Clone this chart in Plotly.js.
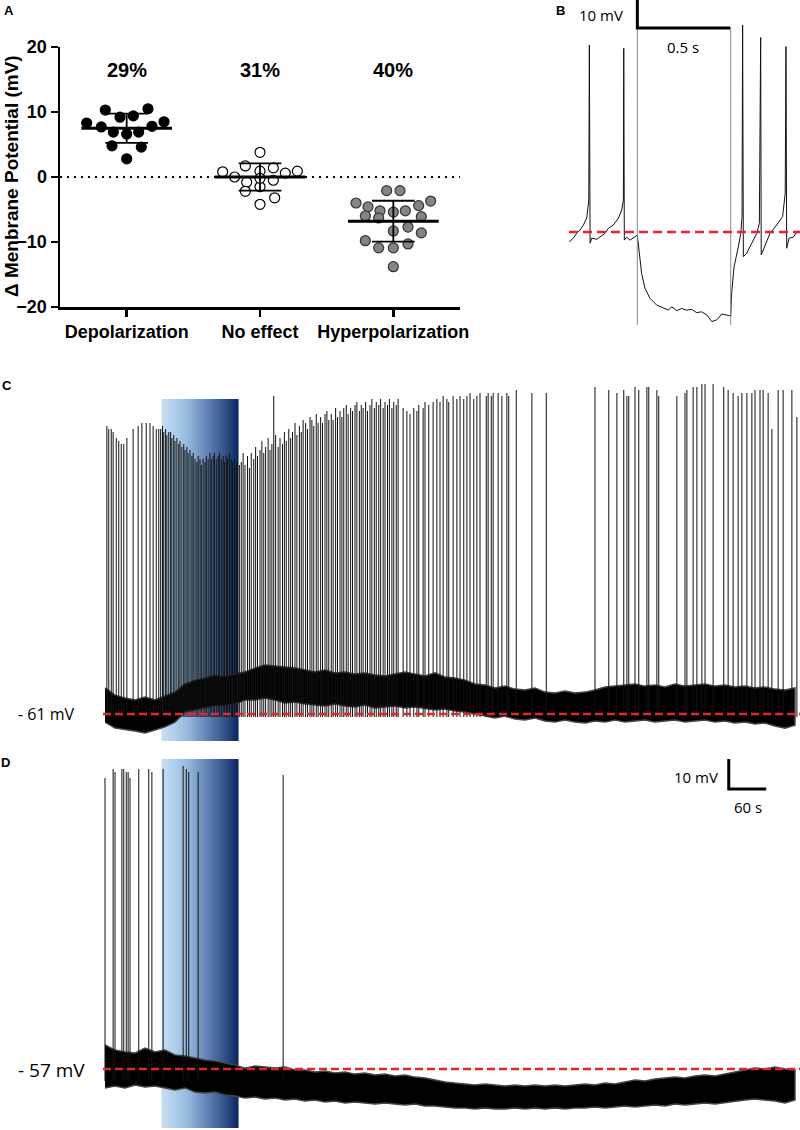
<!DOCTYPE html>
<html>
<head>
<meta charset="utf-8">
<script src="https://cdn.plot.ly/plotly-3.0.1.min.js"></script>
<style>
  body { margin: 0; background: #fff; }
  #chart { width: 800px; height: 1130px; }
</style>
</head>
<body>
<div id="chart"></div>
<script>
// ---- Panel A: change in membrane potential per recorded cell ----
const groups = ['Depolarization', 'No effect', 'Hyperpolarization'];
const groupShare = ['29%', '31%', '40%'];

// horizontal scatter offsets (category units) and values (mV)
const depolDx = [-0.30, -0.16, 0.16, -0.05, 0.05, 0.28, -0.19, -0.10, 0, 0.09, 0.19, -0.11, 0.11, 0];
const depolVals = [8.3, 10.3, 10.5, 9.2, 9.4, 8.5, 7.7, 6.9, 6.6, 6.9, 7.8, 4.8, 4.6, 2.8];
const noEffDx = [0, -0.28, -0.19, -0.11, 0, 0.10, 0.19, 0.28, -0.10, 0, 0.10, -0.11, 0.11, 0, 0];
const noEffVals = [3.8, 0.8, 0, 1.7, 0.9, 1.4, 0.6, 0.9, -0.8, -1.5, -0.5, -2.2, -3.2, -4.2, -0.2];
const hyperDx = [-0.05, 0.05, -0.28, -0.19, 0.28, 0.19, -0.10, 0, 0.09, -0.21, -0.11, 0.21, 0, 0.11, 0.21, -0.21, -0.11, 0, 0.11, 0];
const hyperVals = [-2.1, -2.1, -4.0, -4.6, -3.7, -4.4, -5.2, -5.4, -5.2, -6.0, -6.3, -6.1, -8.3, -7.7, -8.6, -9.8, -10.9, -10.9, -10.3, -13.8];
const groupMeans = [7.5, 0, -6.8];
const groupSd = [2.25, 2.1, 3.15];

// ---- Panel B: single trace around a 0.5 s light pulse (ms, mV from rest) ----
const traceBTime = [-4, 18, 36, 54, 72, 90, 101, 104, 108, 117, 144, 161, 188, 206, 233, 260, 278, 287, 289, 292,
  305, 323, 340, 362, 373, 385, 403, 430, 466, 493, 511, 529, 547, 574, 600, 627, 654, 681, 708, 735,
  762, 789, 816, 851, 864, 869, 882, 905, 918, 925, 928, 932, 950, 977, 1004, 1018, 1025, 1028, 1048, 1075,
  1111, 1143, 1157, 1161, 1165, 1178, 1199, 1226];
const traceBVolt = [-3.5, -2.2, -0.5, 0.7, 2.5, 5.0, 11.4, 66.8, -4.0, -2.2, -2.6, -1.9, -0.5, 1.3, 2.5, 4.9, 7.9, 11.4, 65.6, -2.9,
  -1.9, -2.9, -2.2, -1.1, -7.6, -14.8, -20.1, -23.7, -26.1, -26.9, -27.3, -27.9, -26.7, -28.1, -27.3, -27.9, -27.6, -28.8, -28.5, -29.6,
  -32.0, -31.4, -29.3, -30.0, -30.0, -21.9, -12.4, -5.3, -0.5, 5.5, 73.9, -8.8, -7.6, -4.0, -0.5, 3.1, 69.5, -8.2, -4.6, -0.5,
  2.5, 5.5, 13.8, 66.2, -5.8, -2.2, -1.9, 0.5];
const pulseB = [362, 864];

// ---- Panels C and D: long recordings (s, mV) ----
const lightOn = [90, 214];
const restC = -61;
const restD = -57;
const bandTime = [0, 16, 32, 48, 64, 80, 96, 112, 128, 144, 160, 176, 192, 208, 224, 240, 256, 272, 288, 304,
  320, 336, 352, 368, 384, 400, 416, 432, 448, 464, 480, 496, 512, 528, 544, 560, 576, 592, 608, 624,
  640, 656, 672, 688, 704, 720, 736, 752, 768, 784, 800, 816, 832, 848, 864, 880, 896, 912, 928, 944,
  960, 976, 992, 1008, 1024, 1040, 1056, 1072, 1088, 1104];
const bandCHigh = [-52.3, -54.7, -55.7, -56.3, -55.3, -56.3, -55, -53.7, -51, -49.7, -49, -48, -48.3, -47.7, -47, -45.7, -44.7, -45, -45.3, -45.7,
  -46.3, -47, -46.3, -47.3, -47, -47.7, -47.3, -48, -48.3, -47.7, -47, -47.7, -48.3, -47.3, -48.7, -49, -49.7, -51, -51.3, -52.3,
  -51.7, -52.7, -53, -52.3, -53.7, -54, -53.3, -54, -53.7, -53, -52, -51.7, -51.3, -51, -51.7, -51.3, -52, -51, -51.7, -51.3,
  -51, -51.7, -51.3, -52, -51.7, -52.3, -52, -52.7, -53, -52.3];
const bandCLow = [-63.7, -65.7, -66.3, -66.7, -67.3, -66.3, -65.3, -63.7, -60.3, -59.7, -59, -58.3, -58.3, -57.7, -56.3, -56.3, -55.7, -56.3, -57.3, -57,
  -57.7, -58, -58.3, -57.7, -58.3, -58.7, -58, -59, -58.7, -58.3, -59, -58.7, -59.3, -59.7, -59.3, -60, -60.3, -61, -61.7, -62.3,
  -61.7, -62.7, -63, -62.3, -63.3, -63.7, -63, -63.7, -64, -63.3, -63.7, -63, -63.7, -63.3, -63, -63.7, -63.3, -63, -63.7, -63.3,
  -63, -63.7, -63.3, -64, -63.7, -64.3, -64, -65, -65.7, -64.7];
const spikesCTime = [3, 6, 10, 13, 18, 22, 26, 30, 35, 45, 53, 59, 66, 72, 77, 82, 86,
  89, 92, 94, 97, 99, 102, 105, 107, 110, 112, 115, 118, 120, 123, 126, 128, 131, 133, 136, 139, 141, 144, 147, 149, 152,
  154, 157, 160, 162, 165, 168, 170, 173, 175, 178, 181, 183, 186, 189, 191, 194, 196, 199, 202, 204, 207, 210, 212, 215,
  218, 221, 224, 228, 231, 234, 238, 241, 244, 248, 251, 254, 257, 261, 264, 267, 270, 273, 277, 280, 284, 287, 290, 294, 297,
  300, 304, 307, 311, 314, 317, 321, 324, 328, 331, 334, 338, 341, 345, 348, 352, 355, 358, 362, 365, 369, 372, 376, 379, 382,
  386, 389, 393, 396, 400, 403, 407, 410, 413, 417, 420, 424, 427, 431, 434, 438, 441, 445, 448, 452, 455, 459, 462, 466, 469,
  477, 483, 488, 494, 499, 502, 509, 512, 518, 525, 531, 536, 541, 547, 550, 557, 563, 568, 574, 579, 584, 590, 595, 600, 610,
  613, 618, 621, 629, 635, 643, 646, 658, 683, 706,
  784, 806, 819, 830, 835, 838, 848, 854, 867, 870, 883, 886, 915, 928, 931, 941, 947, 955, 960, 973, 990, 997, 1005, 1013, 1019,
  1027, 1035, 1040, 1048, 1053, 1061, 1067, 1077, 1085, 1099, 1107];
const spikesCPeak = [35, 34, 34, 33, 31, 30, 29, 29, 31, 34, 35, 36, 36, 36, 35, 34, 34,
  34, 35, 33, 34, 32, 33, 33, 31, 32, 30, 31, 29, 30, 28, 29, 27, 28, 26, 27, 25, 26, 24, 23, 25, 24,
  22, 24, 23, 25, 24, 26, 24, 25, 26, 24, 25, 26, 24, 25, 23, 25, 24, 26, 24, 23, 24, 22, 23, 22,
  23, 26, 22, 25, 21, 26, 24, 28, 25, 27, 30, 26, 28, 31, 27, 29, 45, 32, 28, 31, 29, 33, 30, 34, 31,
  33, 36, 32, 35, 33, 37, 36, 34, 38, 37, 35, 39, 36, 38, 36, 39, 40, 37, 39, 37, 41, 38, 40, 38, 41,
  42, 39, 41, 40, 42, 43, 40, 42, 41, 43, 40, 42, 44, 41, 43, 42, 44, 41, 43, 42, 44, 41, 43, 42, 44,
  41, 40, 39, 41, 40, 42, 41, 43, 42, 43, 44, 43, 45, 44, 43, 45, 44, 45, 44, 45, 46, 44, 45, 46, 45,
  46, 45, 46, 46, 45, 46, 45, 47, 46, 46,
  48, 47, 46, 47, 45, 45, 48, 47, 48, 48, 47, 45, 45, 46, 47, 48, 48, 49, 49, 49, 48, 47, 46, 45, 46,
  46, 46, 47, 47, 47, 46, 34, 47, 47, 47, 38];
const bandDHigh = [-49, -50.7, -51.3, -51.7, -50, -51.3, -50.7, -52.3, -52.7, -53.3, -54, -54.3, -55, -55.7, -56.7, -56, -56.3, -56.7, -56.3, -57.3,
  -57.3, -58, -57.7, -58.3, -58, -58.7, -58.3, -59, -58.7, -59.3, -59, -59.7, -60, -60.7, -61.3, -61.7, -62, -62.3, -62, -62.3,
  -62.7, -62.3, -62.7, -62.3, -62.7, -62.3, -62.7, -62.3, -62, -62.3, -61.7, -62, -61.3, -60.7, -61, -60.3, -60, -59.7, -60, -59.3,
  -59, -59.3, -58.7, -58, -57.3, -56.7, -57, -56.3, -57, -57.3];
const bandDLow = [-63.3, -62.7, -63.3, -62.3, -63, -62.7, -63.3, -64, -63.3, -64.7, -65, -64.7, -65.7, -66, -66.7, -66.3, -67, -66.7, -67.3, -67,
  -67.7, -67.3, -68, -67.7, -68.3, -68, -68.3, -68.7, -68.3, -68.7, -69, -68.7, -69.3, -69.3, -69.7, -70, -70, -70.3, -70, -70.3,
  -70.3, -70, -70.3, -70, -70.3, -70, -70.3, -70, -70, -69.7, -70, -69.7, -69.3, -69.7, -69.3, -69, -69.3, -68.7, -69, -68.7,
  -68.3, -68.7, -68.3, -67.7, -67.3, -67, -67.3, -67.7, -68.3, -67.3];
const spikesDTime = [0, 13, 16, 27, 30, 34, 37, 40, 54, 70, 75, 93, 125, 130, 134, 149, 285];
const spikesDPeak = [40, 43, 42, 43, 43, 42, 42, 40, 43, 43, 42, 43, 44, 43, 42, 42, 41];

const W = 800, H = 1130;
const RED = '#e3262b';
const boldFont = { family: 'Liberation Sans, Arial, sans-serif', size: 18, color: '#000', weight: 'bold' };
const plainFont = { family: 'Open Sans, sans-serif', size: 15, color: '#000' };

function px(x, y) { return { x: x / W, y: 1 - y / H }; }

function label(text, x, y, font, extra) {
  const p = px(x, y);
  return Object.assign({ text: text, x: p.x, y: p.y, xref: 'paper', yref: 'paper', showarrow: false, font: font,
    xanchor: 'center', yanchor: 'middle' }, extra || {});
}

function groupPoints(i, dx, vals, fill, edge) {
  return {
    type: 'scatter', mode: 'markers', xaxis: 'x', yaxis: 'y',
    x: dx.map(d => i + d), y: vals, cliponaxis: false, hoverinfo: 'skip',
    marker: { size: 10, color: fill, line: { color: edge, width: 1.2 } }
  };
}

function meanSdLines() {
  const mx = [], my = [], sx = [], sy = [];
  groupMeans.forEach((m, i) => {
    mx.push(i - 0.34, i + 0.34, null); my.push(m, m, null);
    const hi = m + groupSd[i], lo = m - groupSd[i];
    sx.push(i - 0.16, i + 0.16, null, i - 0.16, i + 0.16, null, i, i, null);
    sy.push(hi, hi, null, lo, lo, null, lo, hi, null);
  });
  return [
    { type: 'scatter', mode: 'lines', x: sx, y: sy, xaxis: 'x', yaxis: 'y', line: { color: '#000', width: 1.8 }, hoverinfo: 'skip' },
    { type: 'scatter', mode: 'lines', x: mx, y: my, xaxis: 'x', yaxis: 'y', line: { color: '#000', width: 3 }, hoverinfo: 'skip' }
  ];
}

function noiseBand(times, hi, lo, xa, ya) {
  return {
    type: 'scatter', mode: 'lines', xaxis: xa, yaxis: ya, hoverinfo: 'skip',
    x: times.concat(times.slice().reverse()), y: hi.concat(lo.slice().reverse()),
    fill: 'toself', fillcolor: '#000', line: { color: '#444', width: 1.5 }
  };
}

function spikeLines(times, peaks, base, xa, ya) {
  const x = [], y = [];
  times.forEach((t, i) => { x.push(t, t, null); y.push(base, peaks[i], null); });
  return { type: 'scatter', mode: 'lines', x: x, y: y, xaxis: xa, yaxis: ya, hoverinfo: 'skip',
    line: { color: '#111', width: 1 } };
}

const traces = [
  groupPoints(0, depolDx, depolVals, '#000', '#000'),
  groupPoints(1, noEffDx, noEffVals, '#fff', '#000'),
  groupPoints(2, hyperDx, hyperVals, '#848484', '#333'),
  ...meanSdLines(),
  { type: 'scatter', mode: 'lines', x: traceBTime, y: traceBVolt, xaxis: 'x2', yaxis: 'y2',
    line: { color: '#111', width: 1 }, hoverinfo: 'skip' },
  noiseBand(bandTime, bandCHigh, bandCLow, 'x3', 'y3'),
  spikeLines(spikesCTime, spikesCPeak, -62, 'x3', 'y3'),
  noiseBand(bandTime, bandDHigh, bandDLow, 'x4', 'y4'),
  spikeLines(spikesDTime, spikesDPeak, -61, 'x4', 'y4')
];

// light blue-to-navy gradient used for the light-on period
const gradSvg = "<svg xmlns='http://www.w3.org/2000/svg' width='100' height='100' viewBox='0 0 100 100' preserveAspectRatio='none'>" +
  "<defs><linearGradient id='g' x1='0' y1='0' x2='1' y2='0'>" +
  "<stop offset='0' stop-color='#c8ddf0'/><stop offset='0.15' stop-color='#b3d2ee'/>" +
  "<stop offset='0.35' stop-color='#95b6dc'/><stop offset='0.55' stop-color='#6b8cbc'/>" +
  "<stop offset='0.78' stop-color='#3a5a8f'/><stop offset='1' stop-color='#0b2662'/>" +
  "</linearGradient></defs><rect width='100' height='100' fill='url(#g)'/></svg>";
const gradSrc = 'data:image/svg+xml;base64,' + btoa(gradSvg);

function lightBox(xa, top, bottom) {
  return { source: gradSrc, xref: xa, yref: 'paper', x: lightOn[0], y: 1 - top / H,
    sizex: lightOn[1] - lightOn[0], sizey: (bottom - top) / H, sizing: 'stretch',
    xanchor: 'left', yanchor: 'top', layer: 'below' };
}

const hidden = { visible: false, fixedrange: true };

const layout = {
  width: W, height: H,
  margin: { l: 0, r: 0, t: 0, b: 0 },
  paper_bgcolor: '#fff', plot_bgcolor: 'rgba(0,0,0,0)',
  showlegend: false,
  xaxis: {
    domain: [60 / W, 460 / W], range: [-0.5, 2.5], anchor: 'y',
    tickvals: [0, 1, 2], ticktext: groups, tickfont: boldFont,
    showline: true, linecolor: '#000', linewidth: 2.5,
    ticks: 'outside', ticklen: 7, tickwidth: 2.5, tickcolor: '#000',
    showgrid: false, zeroline: false, fixedrange: true
  },
  yaxis: {
    domain: [1 - 307 / H, 1 - 47 / H], range: [-20, 20], anchor: 'x',
    tickvals: [-20, -10, 0, 10, 20], tickfont: boldFont,
    showline: true, linecolor: '#000', linewidth: 2.5,
    ticks: 'outside', ticklen: 7, tickwidth: 2.5, tickcolor: '#000',
    showgrid: false, zeroline: false, fixedrange: true
  },
  xaxis2: Object.assign({ domain: [560 / W, 1], range: [-53.8, 1236.5], anchor: 'y2' }, hidden),
  yaxis2: Object.assign({ domain: [1 - 330 / H, 1], range: [-35, 82.86], anchor: 'x2' }, hidden),
  xaxis3: Object.assign({ domain: [0, 1], range: [-168, 1112], anchor: 'y3' }, hidden),
  yaxis3: Object.assign({ domain: [1 - 745 / H, 1 - 380 / H], range: [-71.33, 50.33], anchor: 'x3' }, hidden),
  xaxis4: Object.assign({ domain: [0, 1], range: [-168, 1112], anchor: 'y4' }, hidden),
  yaxis4: Object.assign({ domain: [0, 1 - 755 / H], range: [-77.33, 47.67], anchor: 'x4' }, hidden),
  images: [lightBox('x3', 399, 741), lightBox('x4', 759, 1128)],
  shapes: [
    // A: dotted zero line
    { type: 'line', xref: 'x', yref: 'y', x0: -0.5, x1: 2.5, y0: 0, y1: 0, layer: 'below',
      line: { color: '#000', width: 2.2, dash: '2px,5px' } },
    // B: light pulse markers, resting level, scale bar
    { type: 'line', xref: 'x2', yref: 'y2', x0: pulseB[0], x1: pulseB[0], y0: -33.2, y1: 72.9,
      line: { color: '#8a8a8a', width: 1 } },
    { type: 'line', xref: 'x2', yref: 'y2', x0: pulseB[1], x1: pulseB[1], y0: -33.2, y1: 72.9,
      line: { color: '#8a8a8a', width: 1 } },
    { type: 'line', xref: 'paper', yref: 'y2', x0: 569 / W, x1: 1, y0: 0, y1: 0,
      line: { color: RED, width: 2.5, dash: '9px,5px' } },
    { type: 'path', xref: 'x2', yref: 'y2',
      path: 'M ' + pulseB[0] + ' 82.9 L ' + pulseB[0] + ' 72.9 L ' + (pulseB[0] + 500) + ' 72.9',
      line: { color: '#000', width: 3 } },
    // C and D: resting levels
    { type: 'line', xref: 'paper', yref: 'y3', x0: 103 / W, x1: 1, y0: restC, y1: restC,
      line: { color: RED, width: 2.5, dash: '8px,4px' } },
    { type: 'line', xref: 'paper', yref: 'y4', x0: 103 / W, x1: 1, y0: restD, y1: restD,
      line: { color: RED, width: 2.5, dash: '8px,4px' } },
    // D: 10 mV / 60 s scale bar
    { type: 'path', xref: 'x4', yref: 'y4', path: 'M 998 46.3 L 998 36.3 L 1058 36.3',
      line: { color: '#000', width: 3 } }
  ],
  annotations: [
    label('A', 9, 11, { family: 'Liberation Sans, Arial', size: 13, color: '#000', weight: 'bold' }),
    label('B', 560, 10, { family: 'Liberation Sans, Arial', size: 13, color: '#000', weight: 'bold' }),
    label('C', 7, 386, { family: 'Liberation Sans, Arial', size: 13, color: '#000', weight: 'bold' }),
    label('D', 5, 762, { family: 'Liberation Sans, Arial', size: 13, color: '#000', weight: 'bold' }),
    label('Δ Menbrane Potential (mV)', 11, 176, Object.assign({}, boldFont, { size: 19 }), { textangle: -90 }),
    ...groupShare.map((s, i) => ({ text: s, x: i, y: 16.5, xref: 'x', yref: 'y', showarrow: false,
      font: Object.assign({}, boldFont, { size: 20 }) })),
    label('10 mV', 601, 15, plainFont),
    label('0.5 s', 683, 47, plainFont),
    label('- 61 mV', 46, 714, Object.assign({}, plainFont, { size: 16 })),
    label('- 57 mV', 51, 1070, Object.assign({}, plainFont, { size: 19 })),
    label('10 mV', 720, 777, plainFont, { xanchor: 'right' }),
    label('60 s', 748, 807, plainFont)
  ]
};

Plotly.newPlot('chart', traces, layout, { staticPlot: true, displayModeBar: false });
</script>
</body>
</html>
